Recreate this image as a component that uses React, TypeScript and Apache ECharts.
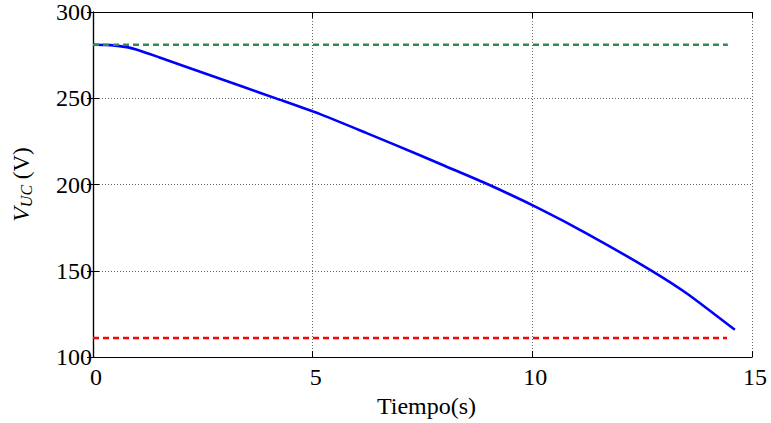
import React, { useEffect, useRef } from "react";
import * as echarts from "echarts";

const timeS = [0, 0.4, 0.8, 1.07, 1.5, 2.21, 3.35, 4.18, 5.17, 6.23, 7.44, 8.0, 9.0, 10.17, 11.24, 12.68, 13.51, 14.61];
const vuc = [281, 280.8, 279.5, 277.6, 273.8, 267.4, 257.2, 249.8, 240.8, 229.8, 217.0, 210.9, 200.0, 185.9, 171.6, 150.6, 137.0, 115.8];
const vMaxT = [0, 14.45];
const vMax = [281, 281];
const vMinT = [0, 14.43];
const vMin = [111, 111];

const xTicks = { min: 0, max: 15, interval: 5 };
const yTicks = { min: 100, max: 300, interval: 50 };

const FONT = "'Liberation Serif', 'DejaVu Serif', serif";

export default function App() {
  const ref = useRef<HTMLDivElement>(null);
  useEffect(() => {
    if (!ref.current) return;
    const chart = echarts.init(ref.current, null, { renderer: "svg" });
    const pairs = (xs: number[], ys: number[]) => xs.map((x, i) => [x, ys[i]]);
    const splitLine = { show: true, lineStyle: { color: "#666", width: 1, type: [1, 2] } };
    const axisLine = { show: true, lineStyle: { color: "#000", width: 1.2 } };
    const axisTick = { show: true, inside: true, length: 6, lineStyle: { color: "#000", width: 1 } };
    chart.setOption({
      animation: false,
      backgroundColor: "#fff",
      grid: { left: 93, right: 19, top: 12, bottom: 61, containLabel: false },
      xAxis: [
        {
          type: "value",
          min: xTicks.min,
          max: xTicks.max,
          interval: xTicks.interval,
          position: "bottom",
          axisLine,
          axisTick,
          splitLine,
          axisLabel: { color: "#000", fontFamily: FONT, fontSize: 24, margin: 8, padding: [0, 0, 0, 6] },
          name: "Tiempo(s)",
          nameLocation: "middle",
          nameGap: 36,
          nameTextStyle: { color: "#000", fontFamily: FONT, fontSize: 24, padding: [0, 0, 0, 8] },
        },
        {
          type: "value",
          min: xTicks.min,
          max: xTicks.max,
          interval: xTicks.interval,
          position: "top",
          axisLine,
          axisTick,
          splitLine: { show: false },
          axisLabel: { show: false },
        },
      ],
      yAxis: [
        {
          type: "value",
          min: yTicks.min,
          max: yTicks.max,
          interval: yTicks.interval,
          position: "left",
          axisLine,
          axisTick,
          splitLine,
          axisLabel: { color: "#000", fontFamily: FONT, fontSize: 24, margin: 1, padding: [5, 0, 0, 0] },
          name: "{i|V}{s|UC} (V)",
          nameLocation: "middle",
          nameGap: 59,
          nameRotate: 90,
          nameTextStyle: {
            color: "#000",
            fontFamily: FONT,
            fontSize: 23,
            rich: {
              i: { fontFamily: FONT, fontSize: 24, fontStyle: "italic", color: "#000" },
              s: { fontFamily: FONT, fontSize: 16, fontStyle: "italic", color: "#000", padding: [10, 0, 0, 0] },
            },
          },
        },
        {
          type: "value",
          min: yTicks.min,
          max: yTicks.max,
          interval: yTicks.interval,
          position: "right",
          axisLine,
          axisTick,
          splitLine: { show: false },
          axisLabel: { show: false },
        },
      ],
      series: [
        {
          type: "line",
          data: pairs(vMaxT, vMax),
          showSymbol: false,
          lineStyle: { color: "#2e8b57", width: 2.5, type: [6, 4] },
          z: 3,
        },
        {
          type: "line",
          data: pairs(vMinT, vMin),
          showSymbol: false,
          lineStyle: { color: "#ff0000", width: 2.5, type: [6, 4] },
          z: 3,
        },
        {
          type: "line",
          data: pairs(timeS, vuc),
          showSymbol: false,
          smooth: 0.2,
          lineStyle: { color: "#0000ff", width: 2.6 },
          z: 2,
        },
      ],
    });
    return () => chart.dispose();
  }, []);
  return (
    <div
      ref={ref}
      style={{ position: "fixed", left: 0, top: 0, width: 771, height: 423, background: "#fff" }}
    />
  );
}
